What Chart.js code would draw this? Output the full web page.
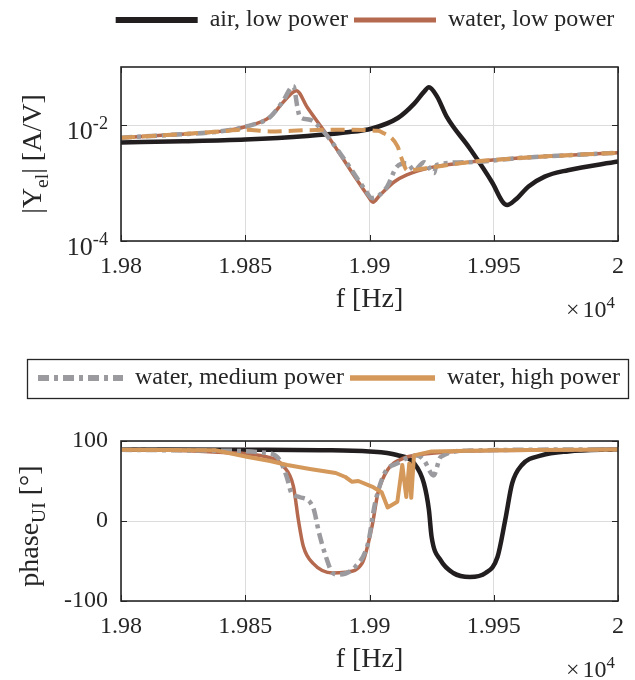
<!DOCTYPE html>
<html>
<head>
<meta charset="utf-8">
<script src="https://cdn.jsdelivr.net/npm/chart.js@4.4.1/dist/chart.umd.min.js"></script>
<style>
  html, body { margin: 0; padding: 0; background: #fff; }
  #wrap { position: relative; width: 635px; height: 680px; }
  canvas { position: absolute; left: 0; }
  #magChart { top: 0; }
  #phaseChart { top: 330px; }
</style>
</head>
<body>
<div id="wrap">
  <canvas id="magChart" width="635" height="330"></canvas>
  <canvas id="phaseChart" width="635" height="350"></canvas>
</div>
<script>
// frequency in units of 1e4 Hz
const freqTicks = [1.98, 1.985, 1.99, 1.995, 2];
const freqTickLabels = ['1.98', '1.985', '1.99', '1.995', '2'];
const magTicks = [1e-4, 1e-2];
const magTickExp = ['-4', '-2'];
const phaseTicks = [-100, 0, 100];
const seriesNames = ['air, low power', 'water, low power', 'water, medium power', 'water, high power'];

// |Y_el| [A/V]
const airMagF = [1.980, 1.9825, 1.985, 1.9875, 1.989, 1.9901, 1.99114, 1.9918, 1.99219, 1.99239, 1.99272, 1.99311, 1.99403, 1.99495, 1.99535, 1.99554, 1.99587, 1.9964, 1.99705, 1.99798, 2.000];
const airMag = [5.01e-3, 5.25e-3, 5.62e-3, 6.46e-3, 7.41e-3, 8.71e-3, 1.32e-2, 2.34e-2, 3.72e-2, 4.47e-2, 3.09e-2, 1.38e-2, 3.98e-3, 1.0e-3, 4.79e-4, 4.17e-4, 5.13e-4, 8.71e-4, 1.29e-3, 1.66e-3, 2.34e-3];

const lowMagF = [1.980, 1.982, 1.984, 1.985, 1.986, 1.9865, 1.9868, 1.98706, 1.9875, 1.9885, 1.9895, 1.9899, 1.99014, 1.9904, 1.991, 1.9915, 1.9925, 1.994, 1.996, 1.998, 2.000];
const lowMag = [6.03e-3, 6.76e-3, 7.76e-3, 9.33e-3, 1.38e-2, 2.4e-2, 3.31e-2, 3.89e-2, 2.0e-2, 5.01e-3, 1.12e-3, 6.31e-4, 4.68e-4, 6.03e-4, 1.05e-3, 1.38e-3, 1.86e-3, 2.29e-3, 2.69e-3, 3.02e-3, 3.31e-3];

const medMagF = [1.980, 1.982, 1.984, 1.985, 1.986, 1.9865, 1.98694, 1.9871, 1.9872, 1.9876, 1.9881, 1.989, 1.9898, 1.9901, 1.9907, 1.9911, 1.9915, 1.9918, 1.9922, 1.9926, 1.9927, 1.994, 1.996, 1.998, 2.000];
const medMag = [6.03e-3, 6.76e-3, 7.76e-3, 9.33e-3, 1.38e-2, 2.51e-2, 4.68e-2, 2.0e-2, 1.38e-2, 1.23e-2, 8.13e-3, 2.51e-3, 7.94e-4, 5.5e-4, 8.51e-4, 1.91e-3, 2.19e-3, 1.66e-3, 2.29e-3, 1.48e-3, 2.04e-3, 2.29e-3, 2.69e-3, 3.02e-3, 3.31e-3];

const highMagF = [1.980, 1.982, 1.984, 1.985, 1.986, 1.9875, 1.989, 1.9903, 1.99048, 1.99113, 1.99127, 1.99152, 1.9925, 1.994, 1.996, 1.998, 2.000];
const highMag = [6.03e-3, 6.76e-3, 7.76e-3, 8.32e-3, 7.76e-3, 8.13e-3, 8.32e-3, 7.94e-3, 7.59e-3, 4.27e-3, 2.82e-3, 1.66e-3, 1.86e-3, 2.29e-3, 2.69e-3, 3.02e-3, 3.31e-3];

// phase_UI [deg]
const airPhaseF = [1.980, 1.985, 1.988, 1.990, 1.9911, 1.9918, 1.99219, 1.99239, 1.9925, 1.99286, 1.99337, 1.99404, 1.99467, 1.99515, 1.99546, 1.99574, 1.99613, 1.99692, 1.998, 2.000];
const airPhase = [89.5, 89, 88.5, 87, 82.5, 72, 47, 14, -20, -49, -65, -70, -65, -45, 1, 47, 70, 82, 87, 89.5];

const lowPhaseF = [1.980, 1.982, 1.98391, 1.98588, 1.98655, 1.98694, 1.98714, 1.98734, 1.98773, 1.98852, 1.98903, 1.98970, 1.99010, 1.99034, 1.99073, 1.9914, 1.99179, 1.993, 1.995, 2.000];
const lowPhase = [89, 88.5, 86, 80, 68, 43, 1, -32, -53, -65, -64, -53, -7, 35, 64, 79, 82, 86, 88, 89.5];

const medPhaseF = [1.980, 1.9835, 1.98588, 1.98639, 1.98667, 1.98686, 1.98718, 1.98773, 1.98797, 1.98825, 1.98852, 1.98876, 1.98943, 1.98994, 1.99022, 1.99061, 1.99112, 1.99191, 1.99219, 1.99258, 1.99286, 1.994, 2.000];
const medPhase = [89, 88, 85, 76, 55, 35, 30, 17, -15, -45, -65, -67, -57, -28, 22, 60, 72, 82, 76, 57, 80, 88, 89.5];

const highPhaseF = [1.980, 1.9838, 1.98511, 1.98600, 1.98669, 1.98760, 1.98864, 1.98903, 1.98930, 1.98955, 1.99010, 1.99049, 1.99073, 1.99090, 1.99112, 1.99132, 1.99148, 1.99160, 1.99168, 1.99179, 1.9925, 1.995, 2.000];
const highPhase = [89, 88.5, 80, 75, 70, 65, 60, 55, 49, 50, 43, 36, 17, 20, 24, 70, 30, 72, 29, 82, 87, 88.5, 89.5];

const ink = '#262626';
const gridInk = '#dcdcdc';
const serif = '"Liberation Serif", "Times New Roman", serif';
const colors = ['#221e1f', '#b5694f', '#9b9b9f', '#d4985a'];

Chart.defaults.font.family = serif;
Chart.defaults.color = ink;

function lineSet(i, f, v, width, dash, order, straight) {
  return {
    label: seriesNames[i],
    data: f.map((x, k) => ({ x: x, y: v[k] })),
    borderColor: colors[i],
    backgroundColor: colors[i],
    borderWidth: width,
    borderDash: dash,
    borderCapStyle: 'butt',
    borderJoinStyle: 'round',
    pointRadius: 0,
    fill: false,
    order: order,
    cubicInterpolationMode: straight ? 'default' : 'monotone',
    tension: 0,
    legendDash: dash,
    legendWidth: width + 1.5
  };
}

function legendItems(chart) {
  return chart.data.datasets.map((ds, i) => ({
    text: ds.label,
    datasetIndex: i,
    hidden: false,
    strokeStyle: ds.borderColor,
    fillStyle: ds.borderColor,
    lineWidth: ds.legendWidth,
    lineDash: ds.legendDash,
    lineCap: 'butt',
    pointStyle: 'line',
    fontColor: ink
  }));
}

function richWidth(ctx, parts, size) {
  let w = 0;
  parts.forEach(p => {
    ctx.font = (p.s ? size * 0.7 : size) + 'px ' + serif;
    w += ctx.measureText(p.t).width + (p.gap || 0);
  });
  return w;
}

function drawRich(ctx, parts, x, y, size) {
  parts.forEach(p => {
    const fs = p.s ? size * 0.7 : size;
    ctx.font = fs + 'px ' + serif;
    const dy = p.s === 'sup' ? -size * 0.38 : (p.s === 'sub' ? size * 0.24 : 0);
    x += p.gap || 0;
    ctx.fillText(p.t, x, y + dy);
    x += ctx.measureText(p.t).width;
  });
}

// frame with inward ticks, matlab style
const boxFrame = {
  id: 'boxFrame',
  afterDraw(chart) {
    const { ctx, chartArea: a, scales } = chart;
    ctx.save();
    ctx.strokeStyle = ink;
    ctx.lineWidth = 1;
    ctx.beginPath();
    scales.x.ticks.forEach(t => {
      const px = Math.round(scales.x.getPixelForValue(t.value)) + 0.5;
      ctx.moveTo(px, a.bottom); ctx.lineTo(px, a.bottom - 6);
      ctx.moveTo(px, a.top); ctx.lineTo(px, a.top + 6);
    });
    scales.y.ticks.forEach(t => {
      const py = Math.round(scales.y.getPixelForValue(t.value)) + 0.5;
      ctx.moveTo(a.left, py); ctx.lineTo(a.left + 6, py);
      ctx.moveTo(a.right, py); ctx.lineTo(a.right - 6, py);
    });
    ctx.stroke();
    ctx.lineWidth = 1.6;
    ctx.strokeRect(a.left, a.top, a.right - a.left, a.bottom - a.top);
    ctx.restore();
  }
};

// titles with sub/superscripts
const richText = {
  id: 'richText',
  afterDraw(chart, args, opts) {
    const { ctx, chartArea: a } = chart;
    ctx.save();
    ctx.fillStyle = ink;
    ctx.textAlign = 'left';
    ctx.textBaseline = 'alphabetic';
    if (opts.logTicks) {
      const ys = chart.scales.y;
      magTicks.forEach((v, i) => {
        const parts = [{ t: '10' }, { t: magTickExp[i], s: 'sup' }];
        const w = richWidth(ctx, parts, 26);
        drawRich(ctx, parts, a.left - 13 - w, ys.getPixelForValue(v) + 14, 26);
      });
    }
    // y title, rotated
    const tw = richWidth(ctx, opts.yTitle, 28);
    ctx.save();
    ctx.translate(opts.yTitleX, (a.top + a.bottom) / 2 + opts.yTitleShift);
    ctx.rotate(-Math.PI / 2);
    drawRich(ctx, opts.yTitle, -tw / 2, 0, 28);
    ctx.restore();
    // x multiplier
    const mult = [{ t: '\u00d7' }, { t: '10', gap: 3 }, { t: '4', s: 'sup' }];
    const mw = richWidth(ctx, mult, 24);
    drawRich(ctx, mult, a.right - 3 - mw, opts.multY, 24);
    ctx.restore();
  }
};

// box around the middle legend
const legendBox = {
  id: 'legendBox',
  afterDraw(chart) {
    const hb = chart.legend.legendHitBoxes;
    if (!hb || !hb.length) return;
    const l = Math.min(...hb.map(h => h.left)) - 11;
    const r = Math.max(...hb.map(h => h.left + h.width)) + 8;
    const t = hb[0].top - 7;
    const b = hb[0].top + hb[0].height + 8;
    const ctx = chart.ctx;
    ctx.save();
    ctx.strokeStyle = ink;
    ctx.lineWidth = 1.3;
    ctx.strokeRect(Math.round(l) + 0.5, Math.round(t) + 0.5, Math.round(r - l), Math.round(b - t));
    ctx.restore();
  }
};

function freqAxis(height, titlePad) {
  return {
    type: 'linear', min: 1.98, max: 2,
    afterBuildTicks: s => { s.ticks = freqTicks.map(v => ({ value: v })); },
    afterFit: s => { s.height = height; },
    ticks: {
      autoSkip: false, maxRotation: 0, padding: 11,
      font: { size: 24 }, color: ink,
      callback: (v, i) => freqTickLabels[i]
    },
    grid: { color: gridInk, lineWidth: 1, drawTicks: false },
    border: { display: false },
    title: { display: true, text: 'f [Hz]', font: { size: 28 }, color: ink, padding: { top: 0, bottom: titlePad } }
  };
}

function spacer(height) {
  return {
    type: 'linear', position: 'top', min: 0, max: 1, display: true,
    ticks: { display: false }, grid: { display: false, drawTicks: false }, border: { display: false },
    afterFit: s => { s.height = height; }
  };
}

const magChart = new Chart(document.getElementById('magChart'), {
  type: 'line',
  data: {
    datasets: [
      lineSet(0, airMagF, airMag, 4.5, [], 4, false),
      lineSet(1, lowMagF, lowMag, 3.5, [], 3, false),
      lineSet(2, medMagF, medMag, 4.5, [11, 5, 4, 5], 2, false),
      lineSet(3, highMagF, highMag, 4, [14, 7], 1, false)
    ]
  },
  options: {
    responsive: false,
    animation: false,
    layout: { padding: { left: 102, right: 7, top: 2, bottom: 0 }, autoPadding: false },
    plugins: {
      legend: {
        position: 'top', fullSize: true,
        labels: {
          usePointStyle: true, pointStyleWidth: 82, padding: 6,
          font: { size: 24 }, color: ink,
          generateLabels: legendItems,
          filter: item => item.datasetIndex < 2
        }
      },
      tooltip: { enabled: false },
      richText: {
        logTicks: true,
        yTitle: [{ t: '|Y' }, { t: 'el', s: 'sub' }, { t: '| [A/V]' }],
        yTitleX: 41, yTitleShift: 0, multY: 317
      }
    },
    scales: {
      x: freqAxis(89, 14),
      xTop: spacer(25),
      y: {
        type: 'logarithmic', min: 1e-4, max: 1e-1,
        afterBuildTicks: s => { s.ticks = magTicks.map(v => ({ value: v })); },
        afterFit: s => { s.width = 19; },
        ticks: { display: false },
        grid: { color: gridInk, lineWidth: 1, drawTicks: false },
        border: { display: false }
      }
    }
  },
  plugins: [boxFrame, richText]
});

const phaseChart = new Chart(document.getElementById('phaseChart'), {
  type: 'line',
  data: {
    datasets: [
      lineSet(0, airPhaseF, airPhase, 4.5, [], 4, false),
      lineSet(1, lowPhaseF, lowPhase, 3.5, [], 3, false),
      lineSet(2, medPhaseF, medPhase, 4.5, [11, 5, 4, 5], 2, false),
      lineSet(3, highPhaseF, highPhase, 4, [], 1, true)
    ]
  },
  options: {
    responsive: false,
    animation: false,
    layout: { padding: { left: 30, right: 7, top: 30, bottom: 0 }, autoPadding: false },
    plugins: {
      legend: {
        position: 'top', fullSize: true,
        labels: {
          usePointStyle: true, pointStyleWidth: 85, padding: 6,
          font: { size: 24 }, color: ink,
          generateLabels: legendItems,
          filter: item => item.datasetIndex >= 2
        }
      },
      tooltip: { enabled: false },
      richText: {
        logTicks: false,
        yTitle: [{ t: 'phase' }, { t: 'UI', s: 'sub' }, { t: ' [\u00b0]' }],
        yTitleX: 38, yTitleShift: 5, multY: 347
      }
    },
    scales: {
      x: freqAxis(79, 4),
      xTop: spacer(41),
      y: {
        type: 'linear', min: -100, max: 100,
        afterBuildTicks: s => { s.ticks = phaseTicks.map(v => ({ value: v })); },
        afterFit: s => { s.width = 91; },
        ticks: { padding: 13, font: { size: 24 }, color: ink, callback: v => String(v) },
        grid: { color: gridInk, lineWidth: 1, drawTicks: false },
        border: { display: false }
      }
    }
  },
  plugins: [boxFrame, richText, legendBox]
});
</script>
</body>
</html>
